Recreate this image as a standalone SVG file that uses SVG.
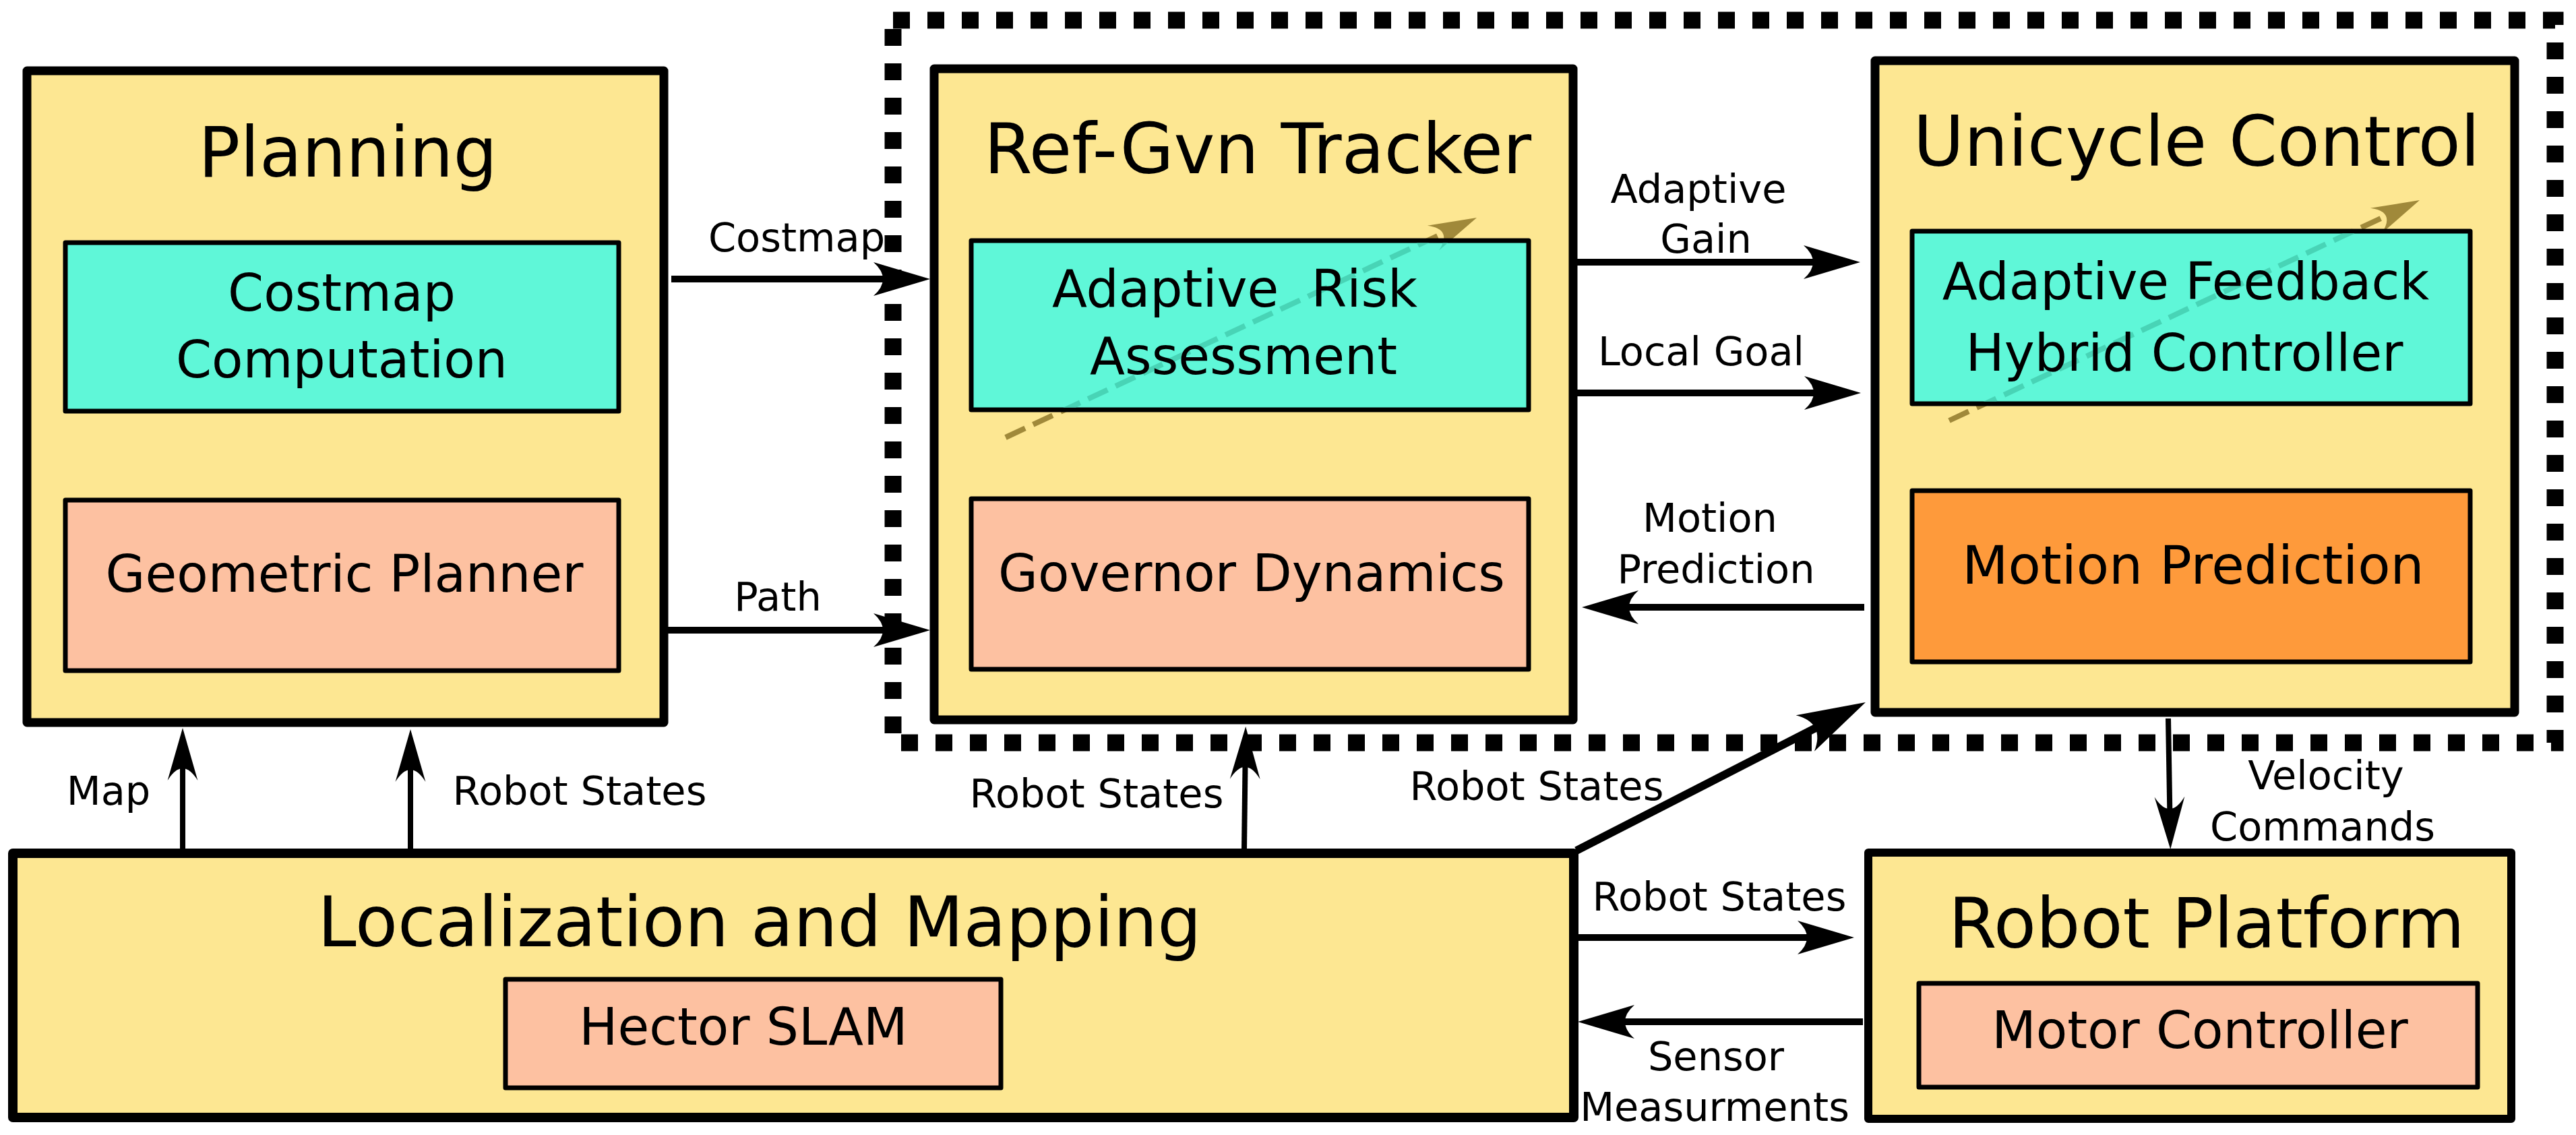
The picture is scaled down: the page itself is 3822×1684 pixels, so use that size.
<svg xmlns="http://www.w3.org/2000/svg" width="3822" height="1684" viewBox="0 0 3822 1684">
<style>
.box{fill:#fde792;stroke:#000;stroke-width:13;stroke-linejoin:round}
.teal{fill:#5ff7d8;stroke:#000;stroke-width:7;stroke-linejoin:round}
.salmon{fill:#fdc1a1;stroke:#000;stroke-width:7;stroke-linejoin:round}
.orange{fill:#fe9a3b;stroke:#000;stroke-width:7;stroke-linejoin:round}
text{font-family:"DejaVu Sans","Liberation Sans",sans-serif;fill:#000;text-anchor:middle;white-space:pre}
.t{font-size:103px}
.s{font-size:76px}
.l{font-size:59px}
.c{stroke:#000;fill:none}
.dash1{stroke:#a0893a;stroke-width:8;fill:none;stroke-dasharray:32 13}
.dash2{stroke:#48d4b6;stroke-width:8;fill:none;stroke-dasharray:32 13}
</style>
<defs>
<marker id="ha" markerUnits="strokeWidth" orient="auto" refX="0" refY="0" overflow="visible"><path d="M2,0 L-6.4,-2.5 Q-3.6,0 -6.4,2.5 Z" fill="#000"/></marker>
<marker id="hb" markerUnits="strokeWidth" orient="auto" refX="0" refY="0" overflow="visible"><path d="M2,0 L-7.75,-2.8 Q-3.25,0 -7.75,2.8 Z" fill="#000"/></marker>
<marker id="hol" markerUnits="strokeWidth" orient="auto" refX="0" refY="0" overflow="visible"><path d="M2,0 L-6.9,-2.55 Q-2.9,0 -6.9,2.55 Z" fill="#a0893a"/></marker>
<marker id="hte" markerUnits="strokeWidth" orient="auto" refX="0" refY="0" overflow="visible"><path d="M2,0 L-6.9,-2.55 Q-2.9,0 -6.9,2.55 Z" fill="#48d4b6"/></marker>
<clipPath id="clipR"><rect x="1444.5" y="360.5" width="820" height="244"/></clipPath>
<clipPath id="clipU"><rect x="2840.5" y="346.5" width="821" height="249"/></clipPath>
</defs>

<g id="boundary">
<rect x="1325" y="30" width="2466" height="1072" fill="none" stroke="#000" stroke-width="25" stroke-dasharray="25 26"/>
</g>

<g id="planning">
<rect class="box" x="40" y="105" width="945" height="967"/>
<text class="t" x="516" y="262">Planning</text>
<g id="costmap-computation">
<rect class="teal" x="97" y="360" width="821" height="250"/>
<text class="s" x="507" y="461">Costmap</text>
<text class="s" x="507" y="560">Computation</text>
</g>
<g id="geometric-planner">
<rect class="salmon" x="97" y="742" width="821" height="253"/>
<text class="s" x="511" y="878">Geometric Planner</text>
</g>
</g>

<g id="ref-gvn-tracker">
<rect class="box" x="1386" y="102" width="948" height="966"/>
<text class="t" x="1866" y="257">Ref-Gvn Tracker</text>
<path class="dash1" d="M1492,649 L2176.5,329.8" marker-end="url(#hol)"/>
<g id="adaptive-risk">
<rect class="teal" x="1441" y="357" width="827" height="251"/>
<path class="dash2" d="M1492,649 L2176.5,329.8" marker-end="url(#hte)" clip-path="url(#clipR)"/>
<text class="s" x="1832" y="455">Adaptive  Risk</text>
<text class="s" x="1845" y="555">Assessment</text>
</g>
<g id="governor-dynamics">
<rect class="salmon" x="1441" y="740" width="827" height="253"/>
<text class="s" x="1857" y="877">Governor Dynamics</text>
</g>
</g>

<g id="unicycle-control">
<rect class="box" x="2782" y="90" width="949" height="967"/>
<text class="t" x="3259" y="246">Unicycle Control</text>
<path class="dash1" d="M2892,624 L3575.5,303.8" marker-end="url(#hol)"/>
<g id="adaptive-feedback">
<rect class="teal" x="2837" y="343" width="828" height="256"/>
<path class="dash2" d="M2892,624 L3575.5,303.8" marker-end="url(#hte)" clip-path="url(#clipU)"/>
<text class="s" x="3243" y="444">Adaptive Feedback</text>
<text class="s" x="3241" y="550">Hybrid Controller</text>
</g>
<g id="motion-prediction">
<rect class="orange" x="2837" y="728" width="828" height="254"/>
<text class="s" x="3254" y="866" style="font-size:79px">Motion Prediction</text>
</g>
</g>

<g id="localization-mapping">
<rect class="box" x="19" y="1266" width="2316" height="392" style="stroke-width:14"/>
<text class="t" x="1127" y="1404">Localization and Mapping</text>
<g id="hector-slam">
<rect class="salmon" x="750" y="1453" width="735" height="161"/>
<text class="s" x="1103" y="1550">Hector SLAM</text>
</g>
</g>

<g id="robot-platform">
<rect class="box" x="2772" y="1265" width="954" height="395" style="stroke-width:12"/>
<text class="t" x="3274" y="1406">Robot Platform</text>
<g id="motor-controller">
<rect class="salmon" x="2847" y="1459" width="829" height="154"/>
<text class="s" x="3264" y="1555">Motor Controller</text>
</g>
</g>

<g id="connectors">
<path class="c" stroke-width="10" d="M996,414 H1360" marker-end="url(#ha)"/>
<path class="c" stroke-width="10" d="M991,935 H1360" marker-end="url(#ha)"/>
<path class="c" stroke-width="10" d="M2340,389 H2740" marker-end="url(#ha)"/>
<path class="c" stroke-width="10" d="M2340,583 H2741" marker-end="url(#ha)"/>
<path class="c" stroke-width="10" d="M2766,901 H2367" marker-end="url(#ha)"/>
<path class="c" stroke-width="8" d="M271,1260 V1096" marker-end="url(#hb)"/>
<path class="c" stroke-width="8" d="M609,1260 V1098" marker-end="url(#hb)"/>
<path class="c" stroke-width="8" d="M1846,1260 L1848,1094" marker-end="url(#hb)"/>
<path class="c" stroke-width="12" d="M2339,1262 L2746.6,1053" marker-end="url(#ha)"/>
<path class="c" stroke-width="10" d="M2339,1391 H2731" marker-end="url(#ha)"/>
<path class="c" stroke-width="10" d="M2764,1516 H2361" marker-end="url(#ha)"/>
<path class="c" stroke-width="8" d="M3217,1066 L3220,1244" marker-end="url(#hb)"/>
<text class="l" x="1182" y="373">Costmap</text>
<text class="l" x="1154" y="906">Path</text>
<text class="l" x="2520" y="301">Adaptive</text>
<text class="l" x="2531" y="375">Gain</text>
<text class="l" x="2524" y="542">Local Goal</text>
<text class="l" x="2537" y="789">Motion</text>
<text class="l" x="2546" y="865">Prediction</text>
<text class="l" x="161" y="1194">Map</text>
<text class="l" x="860" y="1194">Robot States</text>
<text class="l" x="1627" y="1198">Robot States</text>
<text class="l" x="2280" y="1187">Robot States</text>
<text class="l" x="2551" y="1351">Robot States</text>
<text class="l" x="2546" y="1588">Sensor</text>
<text class="l" x="2544" y="1663">Measurments</text>
<text class="l" x="3451" y="1171">Velocity</text>
<text class="l" x="3446" y="1247">Commands</text>
</g>
</svg>
